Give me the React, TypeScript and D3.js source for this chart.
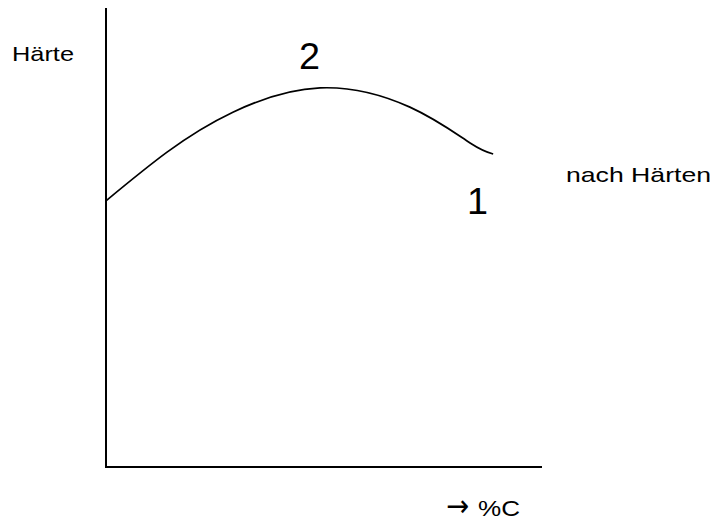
import React from "react";
import * as d3 from "d3";

// Curve: carbon content (arbitrary %) vs hardness (arbitrary units)
const carbon = [0, 14.0, 29.1, 49.1, 69.7, 83.5, 88.8];
const hardness = [58.0, 68.6, 77.3, 82.6, 78.4, 70.6, 68.2];

const yLabel = "Härte";
const arrowLabel = "→";
const xLabel = "%C";
const curveLabel = "nach Härten";
const pointLabels = ["2", "1"];

const W = 715;
const H = 524;

export default function App() {
  const x = d3.scaleLinear().domain([0, 100]).range([106, 542]);
  const y = d3.scaleLinear().domain([0, 100]).range([467, 8]);
  const pts: [number, number][] = carbon.map((c, i) => [x(c), y(hardness[i])]);
  const line = d3
    .line<[number, number]>()
    .x((d) => d[0])
    .y((d) => d[1])
    .curve(d3.curveNatural);

  const font = "'Liberation Sans', Arial, sans-serif";
  return (
    <svg
      width={W}
      height={H}
      viewBox={`0 0 ${W} ${H}`}
      style={{ position: "absolute", left: 0, top: 0, background: "#fff" }}
    >
      <rect width={W} height={H} fill="#fff" />
      {/* axes */}
      <line x1={x(0)} x2={x(0)} y1={y(100)} y2={y(0) + 1} stroke="#000" strokeWidth={2} />
      <line x1={x(0)} x2={x(100)} y1={y(0)} y2={y(0)} stroke="#000" strokeWidth={2} />
      {/* curve */}
      <path d={line(pts) || ""} fill="none" stroke="#000" strokeWidth={1.7} />
      {/* texts */}
      <text x={12} y={61} fontFamily={font} fontSize={21} textLength={62} lengthAdjust="spacingAndGlyphs">
        {yLabel}
      </text>
      <text x={299} y={69} fontFamily={font} fontSize={36} textLength={21} lengthAdjust="spacingAndGlyphs">
        {pointLabels[0]}
      </text>
      <text x={566} y={182} fontFamily={font} fontSize={21} textLength={145} lengthAdjust="spacingAndGlyphs">
        {curveLabel}
      </text>
      <text x={467} y={214} fontFamily={font} fontSize={36} textLength={21} lengthAdjust="spacingAndGlyphs">
        {pointLabels[1]}
      </text>
      <text x={446} y={516} fontFamily="'DejaVu Sans', sans-serif" fontSize={30} textLength={23} lengthAdjust="spacingAndGlyphs">
        {arrowLabel}
      </text>
      <text x={478} y={516} fontFamily={font} fontSize={22} textLength={42} lengthAdjust="spacingAndGlyphs">
        {xLabel}
      </text>
    </svg>
  );
}
